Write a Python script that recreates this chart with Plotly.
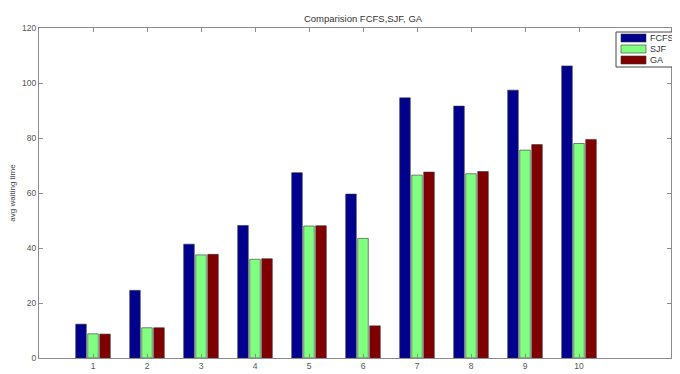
import plotly.graph_objects as go

categories = [1, 2, 3, 4, 5, 6, 7, 8, 9, 10]
fcfs = [12.3, 24.6, 41.4, 48.2, 67.4, 59.6, 94.6, 91.6, 97.4, 106.2]
sjf = [8.8, 11.0, 37.5, 35.9, 48.0, 43.5, 66.5, 67.0, 75.6, 78.0]
ga = [8.7, 11.0, 37.7, 36.1, 48.1, 11.7, 67.6, 67.8, 77.6, 79.5]
y_ticks = [0, 20, 40, 60, 80, 100, 120]
series_names = ["FCFS", "SJF", "GA"]

colors = {"FCFS": "#00008F", "SJF": "#80FF80", "GA": "#800000"}
FONT = "Liberation Sans, Arial"

fig = go.Figure()
for name, vals in zip(series_names, [fcfs, sjf, ga]):
    fig.add_trace(go.Bar(
        x=categories, y=vals, name=name, showlegend=False,
        marker=dict(color=colors[name], line=dict(color="#333333", width=0.6)),
    ))

axis_common = dict(
    showline=True, linecolor="#8c8c8c", linewidth=1, mirror="allticks",
    ticks="inside", ticklen=4, tickcolor="#8c8c8c", showgrid=False, zeroline=False,
    tickfont=dict(family=FONT, size=8.5, color="#555555"),
)

# page body has 8px margin; plot area spans screen x 39..671, y 28..358
W, H = 664, 366
PW = 632.0
def px(x):
    return (x - 39) / PW
def py(y):
    return (358 - y) / 330.0

shapes = [dict(type="rect", xref="paper", yref="paper",
               x0=px(616), x1=px(690), y0=py(67), y1=py(32),
               line=dict(color="#444444", width=1), fillcolor="white", layer="above")]
annotations = []
for i, name in enumerate(series_names):
    cy = 38 + 11 * i
    shapes.append(dict(type="rect", xref="paper", yref="paper",
                       x0=px(621), x1=px(646), y0=py(cy + 4), y1=py(cy - 4),
                       line=dict(color="#333333", width=0.6), fillcolor=colors[name],
                       layer="above"))
    annotations.append(dict(text=name, xref="paper", yref="paper", x=px(648), y=py(cy),
                            xanchor="left", yanchor="middle", showarrow=False,
                            font=dict(family=FONT, size=9, color="#333333")))

fig.update_layout(
    width=W, height=H,
    margin=dict(l=31, r=1, t=20, b=H - 350),
    paper_bgcolor="white", plot_bgcolor="white",
    barmode="group", bargap=0.333, bargroupgap=0.12,
    title=dict(text="Comparision FCFS,SJF, GA", x=px(363), xref="paper", xanchor="center",
               y=1 - 11 / H, yanchor="middle",
               font=dict(family=FONT, size=9.5, color="#333333")),
    xaxis=dict(range=[0, PW / 54.0], tickvals=categories, **axis_common),
    yaxis=dict(range=[0, 120], tickvals=y_ticks,
               title=dict(text="avg waiting time", standoff=5,
                          font=dict(family=FONT, size=8, color="#444444")),
               **axis_common),
    shapes=shapes, annotations=annotations,
)

fig.write_html("out.html")
